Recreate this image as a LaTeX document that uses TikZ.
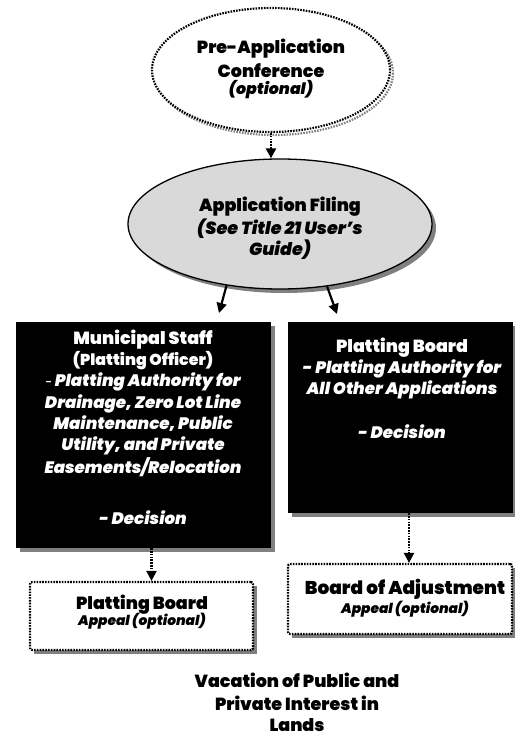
\documentclass[tikz,border=0pt]{standalone}
\usepackage{fontspec}
\setmainfont{Liberation Sans}[FakeStretch=1.2]
\newfontfamily\hvy{Poppins Black}
\newfontfamily\hvyit{Poppins Black Italic}
\usetikzlibrary{shapes.geometric,arrows.meta}
\definecolor{shadowgray}{RGB}{128,128,128}
\definecolor{fillgray}{RGB}{217,217,217}
\begin{document}
\begin{tikzpicture}[x=1pt,y=-1pt,
  dots/.style={line width=2.2pt,dash pattern=on 1.6pt off 1.2pt},
  dotarrow/.style={dots,-{Triangle[length=10pt,width=10pt]}},
  solidarrow/.style={line width=2.2pt,-{Triangle[length=10pt,width=10pt]}},
  shadowfill/.style={fill=shadowgray,draw=none},
  blackbox/.style={rectangle,fill=black,draw=none,inner sep=0pt},
  dotbox/.style={rectangle,fill=white,draw=black,dots,rounded corners=2pt,inner sep=0pt},
  hd/.style={anchor=base,inner sep=0pt,font=\hvy\fontsize{17.5}{20}\selectfont},
  sub/.style={anchor=base,inner sep=0pt,font=\hvyit\fontsize{16.6}{19}\selectfont},
  small/.style={anchor=base,inner sep=0pt,font=\hvyit\fontsize{13.8}{16}\selectfont},
  wt/.style={text=white}]
\useasboundingbox (0,0) rectangle (514,738);

% ---- Pre-Application Conference ----
\draw[dots,draw=shadowgray] (274,73) ellipse [x radius=119, y radius=62];
\node[ellipse,draw=black,dots,fill=white,minimum width=238pt,minimum height=124pt,inner sep=0pt] (pre) at (271,70) {};
\node[hd] (pre1) at (271,54) {Pre-Application};
\node[hd] (pre2) at (271,78) {Conference};
\node[small,font=\hvyit\fontsize{15.8}{18}\selectfont] (pre3) at (271,95) {(optional)};

% ---- Application Filing ----
\fill[shadowgray] (284,228) ellipse [x radius=152, y radius=65];
\node[ellipse,fill=fillgray,draw=black,line width=1.3pt,minimum width=304pt,minimum height=130pt,inner sep=0pt] (app) at (280,224) {};
\node[hd] (app1) at (280,211) {Application Filing};
\node[sub,font=\hvyit\fontsize{17.5}{20}\selectfont] (app2) at (280,234) {(See Title 21 User’s};
\node[sub,font=\hvyit\fontsize{17.5}{20}\selectfont] (app3) at (280,255) {Guide)};

% ---- Municipal Staff box ----
\fill[shadowfill] (20,326) rectangle (275,552);
\node[blackbox,minimum width=255pt,minimum height=226pt] (ms) at (143.5,435) {};
\node[hd,wt] (ms1) at (143,344) {Municipal Staff};
\node[hd,wt,font=\hvy\fontsize{15.8}{18}\selectfont] (ms2) at (143,365) {(Platting Officer)};
\node[sub,wt] (ms3) at (143,386) {{\rmfamily -} Platting Authority for};
\node[sub,wt] (ms4) at (143,408) {Drainage, Zero Lot Line};
\node[sub,wt] (ms5) at (143,429) {Maintenance, Public};
\node[sub,wt] (ms6) at (143,450) {Utility, and Private};
\node[sub,wt] (ms7) at (143,473) {Easements/Relocation};
\node[sub,wt] (ms8) at (143,524) {- Decision};

% ---- Platting Board box ----
\fill[shadowfill] (292,326) rectangle (517,517);
\node[blackbox,minimum width=225pt,minimum height=191pt] (pb) at (400.5,417.5) {};
\node[hd,wt] (pb1) at (402,352) {Platting Board};
\node[sub,wt] (pb2) at (402,373) {- Platting Authority for};
\node[sub,wt] (pb3) at (402,394) {All Other Applications};
\node[sub,wt] (pb4) at (402,438) {- Decision};

% ---- Platting Board appeal ----
\fill[shadowfill] (34,586) rectangle (257,654);
\node[dotbox,minimum width=223pt,minimum height=68pt] (pba) at (141.5,616) {};
\node[hd] (pba1) at (142,609) {Platting Board};
\node[small] (pba2) at (142,625) {Appeal (optional)};

% ---- Board of Adjustment ----
\fill[shadowfill] (292,568) rectangle (516,638);
\node[dotbox,minimum width=224pt,minimum height=70pt] (boa) at (400,599) {};
\node[hd,font=\hvy\fontsize{18.5}{20}\selectfont] (boa1) at (405,594) {Board of Adjustment};
\node[small] (boa2) at (405,613) {Appeal (optional)};

% ---- Title ----
\node[hd] (t1) at (297,687) {Vacation of Public and};
\node[hd] (t2) at (297,710) {Private Interest in};
\node[hd] (t3) at (297,731) {Lands};

% ---- Connectors ----
\coordinate (la) at (219,313);
\coordinate (ra) at (337,314);
\draw[dotarrow] (pre.south) -- (pre.south |- app.north);
\draw[solidarrow] (app.-131) -- (la);
\draw[solidarrow] (app.-53) -- (ra);
\draw[dotarrow] ([xshift=8pt]ms.south) -- ([xshift=8pt]ms.south |- pba.north);
\draw[dotarrow] ([xshift=8.5pt]pb.south) -- ([xshift=8.5pt]pb.south |- boa.north);
\end{tikzpicture}
\end{document}
